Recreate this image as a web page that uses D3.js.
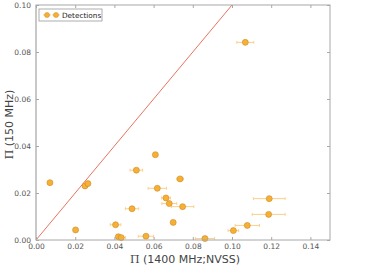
<!DOCTYPE html>
<html>
<head>
<meta charset="utf-8">
<script src="https://cdn.jsdelivr.net/npm/d3@7"></script>
<style>
body { margin: 0; background: #fff; }
text { font-family: "DejaVu Sans", sans-serif; }
</style>
</head>
<body>
<svg id="chart" width="367" height="270"></svg>
<script>
// Π at 1400 MHz (NVSS), Π at 150 MHz, horizontal error on x
var pi1400 = [0.0071, 0.0202, 0.0250, 0.0265, 0.0406, 0.0420, 0.0435, 0.0490, 0.0512, 0.0561,
              0.0609, 0.0619, 0.0663, 0.0680, 0.0700, 0.0735, 0.0748, 0.0862, 0.1007, 0.1078,
              0.1187, 0.1190, 0.1068];
var pi150  = [0.0244, 0.0043, 0.0230, 0.0240, 0.0065, 0.0014, 0.0010, 0.0133, 0.0297, 0.0016,
              0.0363, 0.0220, 0.0179, 0.0155, 0.0075, 0.0260, 0.0142, 0.0006, 0.0040, 0.0062,
              0.0109, 0.0176, 0.0841];
var err1400 = [0, 0, 0, 0, 0.0027, 0.0010, 0.0022, 0.0034, 0.0032, 0.0039,
               0, 0.0047, 0.0023, 0.0038, 0, 0.0017, 0.0057, 0.0049, 0.0027, 0.0062,
               0.0084, 0.0081, 0.0043];
var xTicks = [0, 0.02, 0.04, 0.06, 0.08, 0.10, 0.12, 0.14];
var yTicks = [0, 0.02, 0.04, 0.06, 0.08, 0.10];

var svg = d3.select('#chart');
var margin = {top: 5, right: 37, bottom: 30, left: 36},
    width  = 367 - margin.left - margin.right,
    height = 270 - margin.top - margin.bottom;

var g = svg.append('g')
           .attr('transform', 'translate(' + margin.left + ',' + margin.top + ')');

var x = d3.scaleLinear().domain([0, 0.15]).range([0, width]),
    y = d3.scaleLinear().domain([0, 0.10]).range([height, 0]);

var fmt = d3.format('.2f');

// clip for the 1:1 line
svg.append('defs').append('clipPath').attr('id', 'clip')
   .append('rect').attr('width', width).attr('height', height);

g.append('line')
 .attr('clip-path', 'url(#clip)')
 .attr('x1', x(0)).attr('y1', y(0))
 .attr('x2', x(0.15)).attr('y2', y(0.15))
 .attr('stroke', '#e8735f').attr('stroke-width', 1);

var data = pi1400.map(function (d, i) {
    return {x: d, y: pi150[i], e: err1400[i]};
});

var pts = g.append('g');
pts.selectAll('line.err')
   .data(data.filter(function (d) { return d.e > 0; }))
   .enter().append('line')
     .attr('class', 'err')
     .attr('x1', function (d) { return x(d.x - d.e); })
     .attr('x2', function (d) { return x(d.x + d.e); })
     .attr('y1', function (d) { return y(d.y); })
     .attr('y2', function (d) { return y(d.y); })
     .attr('stroke', '#fbd08a').attr('stroke-width', 1);
pts.selectAll('path.cap')
   .data(data.filter(function (d) { return d.e > 0; }))
   .enter().append('path')
     .attr('d', function (d) {
         var yy = y(d.y), a = x(d.x - d.e), b = x(d.x + d.e);
         return 'M' + a + ',' + (yy - 1.5) + 'V' + (yy + 1.5) +
                'M' + b + ',' + (yy - 1.5) + 'V' + (yy + 1.5);
     })
     .attr('stroke', '#fbd08a').attr('stroke-width', 1);
pts.selectAll('circle')
   .data(data)
   .enter().append('circle')
     .attr('cx', function (d) { return x(d.x); })
     .attr('cy', function (d) { return y(d.y); })
     .attr('r', 3)
     .attr('fill', '#f8b033')
     .attr('stroke', '#c98a2a').attr('stroke-width', 0.6);

// frame and inward ticks
var frame = '#a8a8a8';
g.append('rect').attr('width', width).attr('height', height)
 .attr('fill', 'none').attr('stroke', frame).attr('stroke-width', 1);
g.append('line').attr('x1', 0).attr('x2', 0).attr('y1', 0).attr('y2', height)
 .attr('stroke', '#c8c8c8').attr('stroke-width', 2);

function styleAxis(sel) {
    sel.select('.domain').remove();
    sel.selectAll('.tick line').attr('stroke', frame);
    sel.selectAll('.tick text').attr('fill', '#555').attr('font-size', 7.5)
       .attr('font-family', '"DejaVu Sans", sans-serif');
}

g.append('g').attr('transform', 'translate(0,' + height + ')')
 .call(d3.axisBottom(x).tickValues(xTicks).tickFormat(fmt).tickSizeInner(-3).tickPadding(4))
 .call(styleAxis);
g.append('g')
 .call(d3.axisTop(x).tickValues(xTicks).tickFormat('').tickSizeInner(-3))
 .call(styleAxis);
g.append('g')
 .call(d3.axisLeft(y).tickValues(yTicks).tickFormat(fmt).tickSizeInner(-3).tickPadding(5))
 .call(styleAxis);
g.append('g').attr('transform', 'translate(' + width + ',0)')
 .call(d3.axisRight(y).tickValues(yTicks).tickFormat('').tickSizeInner(-3))
 .call(styleAxis);

// axis labels
function label(sel, rest) {
    sel.append('tspan').attr('font-family', '"DejaVu Serif", serif').text('\u03A0');
    sel.append('tspan').text(' ' + rest);
}
svg.append('text')
   .attr('x', margin.left + x(0.075) + 2).attr('y', 263)
   .attr('text-anchor', 'middle').attr('font-size', 11).attr('fill', '#444')
   .call(label, '(1400 MHz;NVSS)');
svg.append('text')
   .attr('transform', 'translate(13,' + (margin.top + height / 2 + 2) + ') rotate(-90)')
   .attr('text-anchor', 'middle').attr('font-size', 11).attr('fill', '#444')
   .call(label, '(150 MHz)');

// legend
var lg = g.append('g').attr('transform', 'translate(3,4)');
lg.append('rect').attr('width', 63).attr('height', 12)
  .attr('fill', '#fff').attr('stroke', '#999').attr('stroke-width', 0.8);
[8, 17].forEach(function (cx) {
    lg.append('line').attr('x1', cx - 4).attr('x2', cx + 4).attr('y1', 6).attr('y2', 6)
      .attr('stroke', '#fbd08a');
    lg.append('circle').attr('cx', cx).attr('cy', 6).attr('r', 2.5)
      .attr('fill', '#f8b033').attr('stroke', '#c98a2a').attr('stroke-width', 0.5);
});
lg.append('text').attr('x', 23).attr('y', 8.7).attr('font-size', 7.3).attr('fill', '#222')
  .text('Detections');
</script>
</body>
</html>
